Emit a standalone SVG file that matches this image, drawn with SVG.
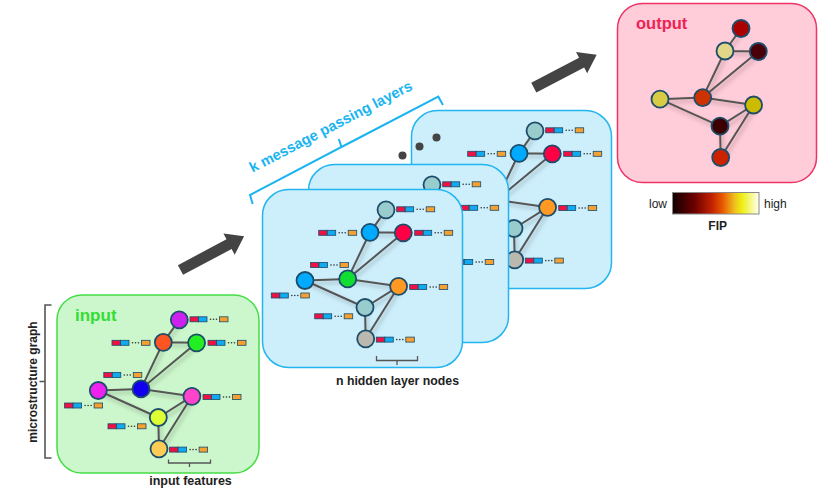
<svg xmlns="http://www.w3.org/2000/svg" xmlns:xlink="http://www.w3.org/1999/xlink" width="830" height="491" viewBox="0 0 830 491">
<style>
.lbl{font-family:"Liberation Sans",Arial,sans-serif;font-weight:bold;fill:#222}
.nrm{font-family:"Liberation Sans",Arial,sans-serif;fill:#222}
.edge{fill:none;stroke:#555;stroke-width:2;stroke-linejoin:round;stroke-linecap:round}
.nd{stroke:#1d4d6b;stroke-width:1.8}
.hid{fill:#cdeffc;stroke:#22b5f0;stroke-width:1.5}
.brk{fill:none;stroke:#555;stroke-width:1.3}
.arr{fill:#444}
</style>
<defs>
<filter id="sh" x="-20%" y="-20%" width="140%" height="140%">
<feDropShadow dx="2" dy="3" stdDeviation="2" flood-color="#000" flood-opacity="0.25"/>
</filter>
<g id="edges"><path class="edge" d="M16,-22.5L0,0L33.3,0.5L-22.3,46.6L0,0M-22.3,46.6L-65,48.2L-5,75.2L28.6,54L-22.3,46.6M-5,75.2L-4.3,106.5L28.6,54"/></g>
<g id="fb">
<rect x="0" y="-2.5" width="8.5" height="5" fill="#ee1144" stroke="#1a4a6a" stroke-width="0.8"/>
<rect x="8.5" y="-2.5" width="8.5" height="5" fill="#11aaee" stroke="#1a4a6a" stroke-width="0.8"/>
<circle cx="20.5" cy="0" r="0.8" fill="#333"/>
<circle cx="23.5" cy="0" r="0.8" fill="#333"/>
<circle cx="26.5" cy="0" r="0.8" fill="#333"/>
<rect x="29.5" y="-2.5" width="8.5" height="5" fill="#f5a030" stroke="#1a4a6a" stroke-width="0.8"/>
</g>
<g id="feats">
<use href="#fb" x="26.7" y="-23"/>
<use href="#fb" x="-51.3" y="0.5"/>
<use href="#fb" x="44.7" y="0.5"/>
<use href="#fb" x="-59.5" y="32.7"/>
<use href="#fb" x="-98.7" y="63.2"/>
<use href="#fb" x="39.7" y="54.7"/>
<use href="#fb" x="-55.3" y="84"/>
<use href="#fb" x="6.3" y="107.3"/>
</g>
<g id="hnodes">
<circle class="nd" cx="16" cy="-22.5" r="8.5" fill="#99cccc"/>
<circle class="nd" cx="0" cy="0" r="8.5" fill="#00aaff"/>
<circle class="nd" cx="33.3" cy="0.5" r="8.5" fill="#ff0044"/>
<circle class="nd" cx="-22.3" cy="46.6" r="8.5" fill="#11dd33"/>
<circle class="nd" cx="-65" cy="48.2" r="8.5" fill="#00aaff"/>
<circle class="nd" cx="28.6" cy="54" r="8.5" fill="#ff9922"/>
<circle class="nd" cx="-5" cy="75.2" r="8.5" fill="#99cccc"/>
<circle class="nd" cx="-4.3" cy="106.5" r="8.5" fill="#bbb8b0"/>
</g>
<linearGradient id="fip" x1="0" x2="1" y1="0" y2="0">
<stop offset="0" stop-color="#120000"/>
<stop offset="0.25" stop-color="#6a0000"/>
<stop offset="0.45" stop-color="#c02000"/>
<stop offset="0.58" stop-color="#e85a00"/>
<stop offset="0.72" stop-color="#f0c020"/>
<stop offset="0.8" stop-color="#eeee10"/>
<stop offset="1" stop-color="#fffff4"/>
</linearGradient>
</defs>

<!-- arrows -->
<g id="connectors">
<polygon class="arr" transform="translate(180.5,270) rotate(-28)" points="0,-5.5 55,-5.5 55,-12 72,0 55,12 55,5.5 0,5.5"/>
<polygon class="arr" transform="translate(533.8,87.7) rotate(-27.7)" points="0,-5.5 54,-5.5 54,-12 71,0 54,12 54,5.5 0,5.5"/>
</g>

<!-- input panel -->
<g id="input">
<rect x="57" y="295" width="202" height="178" rx="25" fill="#ccf7cc" stroke="#44dd44" stroke-width="1.5"/>
<text x="75" y="320.5" class="lbl" style="fill:#33dd33;font-size:17px">input</text>
<g transform="translate(163.3,342.3)">
<use href="#edges" filter="url(#sh)"/>
<use href="#feats"/>
<g id="in-T"><circle class="nd" cx="16" cy="-22.5" r="8.5" fill="#cc22ee"/></g>
<g id="in-A"><circle class="nd" cx="0" cy="0" r="8.5" fill="#ff5522"/></g>
<g id="in-B"><circle class="nd" cx="33.3" cy="0.5" r="8.5" fill="#22ee22"/></g>
<g id="in-C"><circle class="nd" cx="-22.3" cy="46.6" r="8.5" fill="#1100ee"/></g>
<g id="in-L"><circle class="nd" cx="-65" cy="48.2" r="8.5" fill="#ee22ee"/></g>
<g id="in-R"><circle class="nd" cx="28.6" cy="54" r="8.5" fill="#ff44cc"/></g>
<g id="in-W"><circle class="nd" cx="-5" cy="75.2" r="8.5" fill="#ddff33"/></g>
<g id="in-Bt"><circle class="nd" cx="-4.3" cy="106.5" r="8.5" fill="#ffcc55"/></g>
</g>
<path class="brk" d="M168.5,459.5V463H210.5V459.5M189.5,463V467"/>
<text x="190.5" y="485" text-anchor="middle" class="lbl" style="font-size:12.5px">input features</text>
<path class="brk" d="M51.5,305H45V458H51.5M45,381.5H39.5" style="stroke-width:1.6"/>
<text transform="translate(37,382) rotate(-90)" text-anchor="middle" class="lbl" style="font-size:12px">microstructure graph</text>
</g>

<!-- hidden layers -->
<g id="layer-back">
<rect class="hid" x="411.5" y="110.5" width="200" height="178" rx="26"/>
<g transform="translate(519,153.3)">
<use href="#edges" filter="url(#sh)"/>
<use href="#feats"/>
<use href="#hnodes"/>
</g>
</g>
<g id="dots">
<circle cx="402.5" cy="155.5" r="4" fill="#444"/>
<circle cx="419.5" cy="146.5" r="4" fill="#444"/>
<circle cx="436.5" cy="137.5" r="4" fill="#444"/>
</g>
<g id="layer-mid">
<rect class="hid" x="308.5" y="164.5" width="200" height="178" rx="26"/>
<g transform="translate(416,207.3)">
<use href="#edges" filter="url(#sh)"/>
<use href="#feats"/>
<use href="#hnodes"/>
</g>
</g>
<g id="layer-front">
<rect class="hid" x="262.5" y="189.5" width="200" height="178" rx="26"/>
<g transform="translate(370,232.3)">
<use href="#edges" filter="url(#sh)"/>
<use href="#feats"/>
<g id="h-T"><circle class="nd" cx="16" cy="-22.5" r="8.5" fill="#99cccc"/></g>
<g id="h-A"><circle class="nd" cx="0" cy="0" r="8.5" fill="#00aaff"/></g>
<g id="h-B"><circle class="nd" cx="33.3" cy="0.5" r="8.5" fill="#ff0044"/></g>
<g id="h-C"><circle class="nd" cx="-22.3" cy="46.6" r="8.5" fill="#11dd33"/></g>
<g id="h-L"><circle class="nd" cx="-65" cy="48.2" r="8.5" fill="#00aaff"/></g>
<g id="h-R"><circle class="nd" cx="28.6" cy="54" r="8.5" fill="#ff9922"/></g>
<g id="h-W"><circle class="nd" cx="-5" cy="75.2" r="8.5" fill="#99cccc"/></g>
<g id="h-Bt"><circle class="nd" cx="-4.3" cy="106.5" r="8.5" fill="#bbb8b0"/></g>
</g>
<path class="brk" d="M376.5,356V360.5H417.5V356M397,360.5V365"/>
<text x="397.5" y="385" text-anchor="middle" class="lbl" style="font-size:12.3px">n hidden layer nodes</text>
</g>

<!-- k message passing bracket -->
<g id="k-bracket">
<path d="M252.7,204L250,195L341.5,147L338.8,139M341.5,147L438.3,96.7L443,105" fill="none" stroke="#1ab4f0" stroke-width="2"/>
<text transform="translate(333,131) rotate(-27.5)" text-anchor="middle" style="font-family:'Liberation Sans',Arial,sans-serif;font-weight:bold;font-size:14.7px;fill:#1ab4f0">k message passing layers</text>
</g>

<!-- output panel -->
<g id="output">
<rect x="617.5" y="3.5" width="199" height="179" rx="25" fill="#ffccd9" stroke="#ee3366" stroke-width="1.5"/>
<text x="636" y="28.5" class="lbl" style="fill:#ee2255;font-size:16.5px">output</text>
<g transform="translate(725,51)">
<use href="#edges" filter="url(#sh)"/>
<g id="o-T"><circle class="nd" cx="16" cy="-22.5" r="8.5" fill="#aa0000"/></g>
<g id="o-A"><circle class="nd" cx="0" cy="0" r="8.5" fill="#e0d888"/></g>
<g id="o-B"><circle class="nd" cx="33.3" cy="0.5" r="8.5" fill="#4a0008"/></g>
<g id="o-C"><circle class="nd" cx="-22.3" cy="46.6" r="8.5" fill="#cc3300"/></g>
<g id="o-L"><circle class="nd" cx="-65" cy="48.2" r="8.5" fill="#d8cc44"/></g>
<g id="o-R"><circle class="nd" cx="28.6" cy="54" r="8.5" fill="#ccbb00"/></g>
<g id="o-W"><circle class="nd" cx="-5" cy="75.2" r="8.5" fill="#3d0000"/></g>
<g id="o-Bt"><circle class="nd" cx="-4.3" cy="106.5" r="8.5" fill="#cc2200"/></g>
</g>
</g>

<!-- colorbar -->
<g id="colorbar">
<rect x="672.5" y="192.5" width="86.5" height="21.5" fill="url(#fip)" stroke="#888" stroke-width="1"/>
<text x="667" y="207.5" text-anchor="end" class="nrm" style="font-size:12px">low</text>
<text x="764" y="207.5" class="nrm" style="font-size:12px">high</text>
<text x="717.7" y="230" text-anchor="middle" class="lbl" style="font-size:12px">FIP</text>
</g>
</svg>
